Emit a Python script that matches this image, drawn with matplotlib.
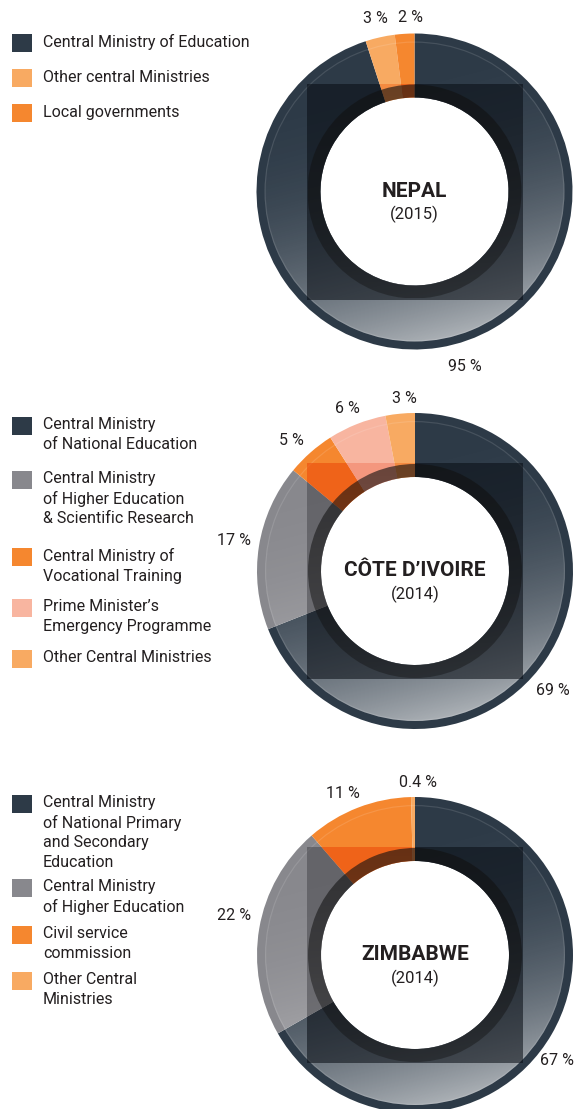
import numpy as np
import matplotlib
matplotlib.use("Agg")
import matplotlib.pyplot as plt
from matplotlib.patches import Wedge, Rectangle
from matplotlib.colors import to_rgb

plt.rcParams['font.family'] = ['Roboto', 'DejaVu Sans']

W, H = 576, 1109

# --- dados ---
nepal_labels = ["Central Ministry of Education", "Other central Ministries", "Local governments"]
nepal_vals = [95, 3, 2]
nepal_colors = ["#2d3a47", "#f8aa62", "#f5872f"]

civ_labels = ["Central Ministry\nof National Education",
              "Central Ministry\nof Higher Education\n& Scientific Research",
              "Central Ministry of\nVocational Training",
              "Prime Minister\u2019s\nEmergency Programme",
              "Other Central Ministries"]
civ_vals = [69, 17, 5, 6, 3]
civ_colors = ["#2d3a47", "#88888d", "#f5872f", "#f8b5a0", "#f8aa62"]

zim_labels = ["Central Ministry\nof National Primary\nand Secondary\nEducation",
              "Central Ministry\nof Higher Education",
              "Civil service\ncommission",
              "Other Central\nMinistries"]
zim_vals = [67, 22, 11, 0.4]
zim_colors = ["#2d3a47", "#88888d", "#f5872f", "#f8aa62"]

# --- layout (pixels, y para baixo) ---
R_OUT, R_RIM, R_IN, R_RING, SQ = 158, 150, 94, 107, 108
TXT = "#231f20"

# ajuste fino da posicao dos rotulos de % (dx, dy em pixels, y para baixo)
nepal_off = [(23, 0), (0, 0), (7, 3)]
civ_off = [(-8, 20), (-6, -3), (-7, 2), (-2, 2), (6, 4)]
zim_off = [(-11, 17), (-6, -10), (-8, 4), (5, 4)]

paineis = [
    ("NEPAL", "(2015)", nepal_vals, nepal_colors, nepal_labels, (414.5, 191.5),
     [34, 69, 104], nepal_off),
    ("C\u00d4TE D\u2019IVOIRE", "(2014)", civ_vals, civ_colors, civ_labels, (415, 571),
     [417, 471, 548, 599, 650], civ_off),
    ("ZIMBABWE", "(2014)", zim_vals, zim_colors, zim_labels, (415, 955),
     [795, 879, 926, 972], zim_off),
]

fig = plt.figure(figsize=(W / 100, H / 100), dpi=100)
ax = fig.add_axes([0, 0, 1, 1])

# gradiente branco (claro embaixo, levemente para a direita)
n = 300
u, v = np.meshgrid(np.linspace(-1, 1, n), np.linspace(-1, 1, n))
t = np.clip((0.25 * u - 0.97 * v + 1) / 2, 0, 1)
grad = np.ones((n, n, 4))
grad[..., 3] = 0.64 * t ** 2.6

# sombra do anel interno (mais escura em cima)
sombra = np.zeros((n, n, 4))
sombra[..., :3] = 0.07
sombra[..., 3] = 0.62 - 0.22 * (1 - (v + 1) / 2)


def mult(c):
    r, g, b = to_rgb(c)
    return (r * r, g * g, b * b)


for titulo, ano, vals, cores, nomes, (px, py), tops, offs in paineis:
    cx, cy = px, H - py

    wedges, textos = ax.pie(vals, colors=cores, startangle=90, counterclock=False,
                            radius=R_OUT, center=(cx, cy),
                            labels=[f"{v:g} %" for v in vals], labeldistance=1.12,
                            wedgeprops=dict(width=R_OUT - R_IN, linewidth=0),
                            textprops=dict(fontsize=11.5, color=TXT))
    for tx, (dx, dy) in zip(textos, offs):
        x0, y0 = tx.get_position()
        tx.set_position((x0 + dx, y0 - dy))
        tx.set_ha("center")
        tx.set_va("center")

    # preenchimento com gradiente (a borda externa fica com a cor base)
    anel = Wedge((cx, cy), R_RIM, 0, 360, width=R_RIM - R_IN, transform=ax.transData)
    im = ax.imshow(grad, extent=[cx - R_OUT, cx + R_OUT, cy - R_OUT, cy + R_OUT],
                   origin="lower", zorder=2, interpolation="bilinear")
    im.set_clip_path(anel)
    ax.add_patch(Wedge((cx, cy), R_RIM, 0, 360, width=1.2, facecolor="white",
                       alpha=0.12, linewidth=0, zorder=2))

    # quadrado escuro por cima
    for w, c in zip(wedges, cores):
        q = Rectangle((cx - SQ, cy - SQ), 2 * SQ, 2 * SQ, facecolor=mult(c),
                      alpha=0.56, linewidth=0, zorder=3)
        ax.add_patch(q)
        q.set_clip_path(w)

    # anel interno de sombra
    anel2 = Wedge((cx, cy), R_RING, 0, 360, width=R_RING - R_IN, transform=ax.transData)
    im2 = ax.imshow(sombra, extent=[cx - R_RING, cx + R_RING, cy - R_RING, cy + R_RING],
                    origin="lower", zorder=4, interpolation="bilinear")
    im2.set_clip_path(anel2)

    ax.text(cx, cy, titulo, ha="center", va="center", fontsize=15,
            fontweight="bold", color=TXT, zorder=5)
    ax.text(cx, cy - 23, ano, ha="center", va="center", fontsize=12,
            color=TXT, zorder=5)

    # legenda
    for nome, c, top in zip(nomes, cores, tops):
        ax.add_patch(Rectangle((12, H - top - 18), 20, 18, facecolor=c, linewidth=0))
        nl = nome.count("\n")
        ax.text(43, H - (top + 8 + nl * 19.5 / 2), nome, ha="left", va="center",
                fontsize=11.5, color=TXT, linespacing=1.38)

ax.set_xlim(0, W)
ax.set_ylim(0, H)
ax.set_aspect("equal")
ax.axis("off")

fig.savefig("out.png", dpi=100)
